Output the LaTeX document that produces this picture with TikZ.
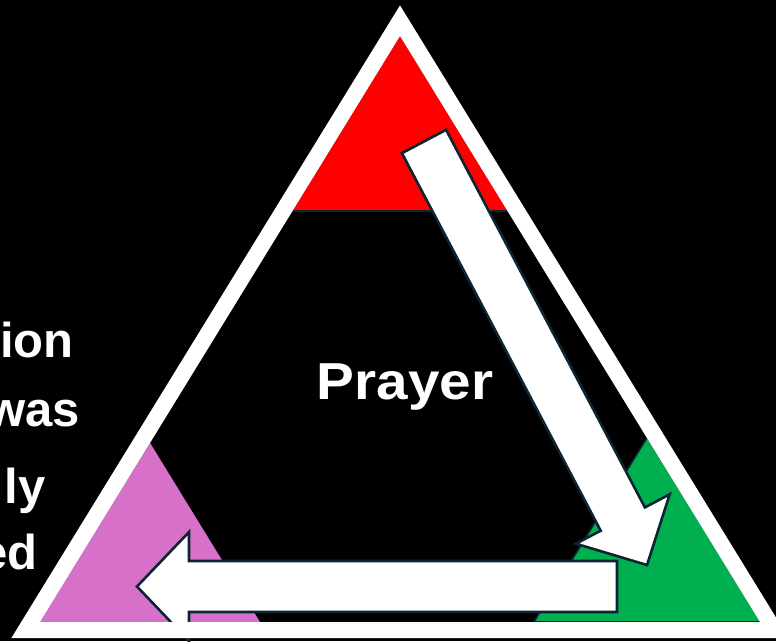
\documentclass[tikz,border=0pt]{standalone}
\usepackage{fontspec}
\setmainfont{Liberation Sans}
\definecolor{navy}{HTML}{0C2433}
\definecolor{cred}{HTML}{FF0000}
\definecolor{cgreen}{HTML}{00B050}
\definecolor{cpurple}{HTML}{D670C9}
\begin{document}
\begin{tikzpicture}[x=1pt,y=-1pt,
  blockarrow/.style={fill=white, draw=navy, line width=2.6pt, line join=miter},
  edgeline/.style={draw=navy, line width=1.6pt},
  lbl/.style={text=white, font=\bfseries\fontsize{49}{49}\selectfont, inner sep=0pt, anchor=base east},
]
\fill[black] (0,0) rectangle (776,641);
\useasboundingbox (0,0) rectangle (776,641);
% coloured corners
\fill[cred] (400,36) -- (292.5,211) -- (507.5,211) -- cycle;
\draw[edgeline] (292.5,211) -- (507.5,211);
\fill[cgreen] (646.8,438) -- (533.8,622) -- (760,622) -- cycle;
\draw[edgeline] (646.8,438) -- (533.8,622) -- (760,622);
\fill[cpurple] (150.1,443) -- (40,622) -- (260,622) -- cycle;
% block arrows
\draw[blockarrow] (401.9,153.15) -- (446.1,129.85) -- (644.9,507.4) -- (669.7,494.3)
  -- (647,565) -- (575.9,543.7) -- (600.7,530.7) -- cycle;
\draw[blockarrow] (617,561) -- (617,612) -- (189,612) -- (189,641) -- (137,586.5)
  -- (189,532) -- (189,561) -- cycle;
% white triangle band
\fill[white, even odd rule] (400,5.4) -- (11.4,638) -- (788.6,638) -- cycle
  (400,36) -- (40,622) -- (760,622) -- cycle;
% texts
\node[text=white, font=\bfseries\fontsize{52}{52}\selectfont, inner sep=0pt, anchor=base] (prayer) at (405,399) {\scalebox{1.09}[1]{Prayer}};
\node[lbl] (t1) at (74,357) {ion};
\node[lbl] (t2) at (80,426) {was};
\node[lbl] (t3) at (46,503) {ly};
\node[lbl] (t4) at (38,569) {ed};
\end{tikzpicture}
\end{document}
